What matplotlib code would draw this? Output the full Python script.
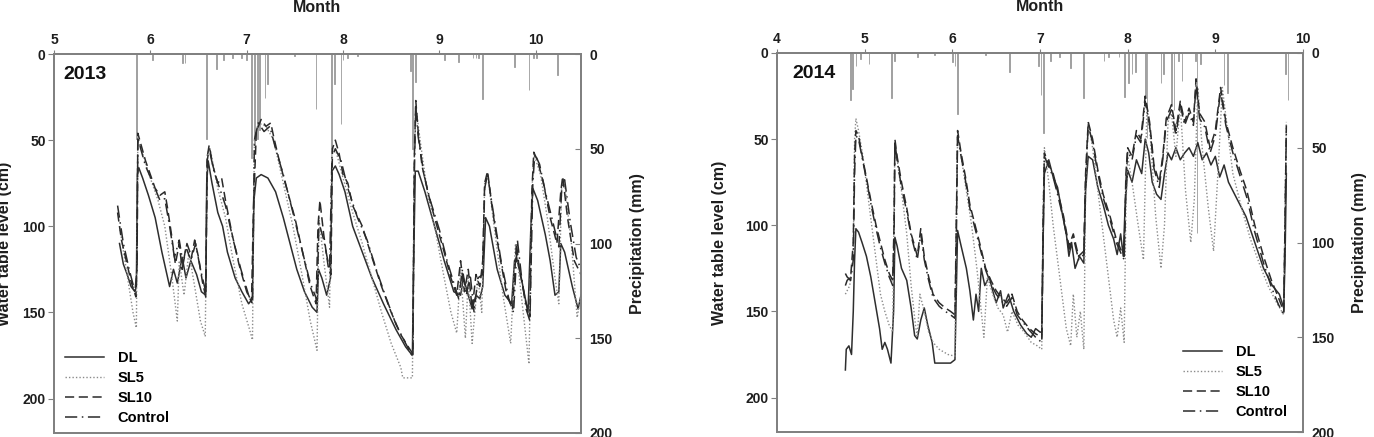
import matplotlib
matplotlib.use("Agg")
import matplotlib.pyplot as plt
import numpy as np

plt.rcParams['font.family'] = ['Liberation Sans', 'DejaVu Sans']
plt.rcParams['font.weight'] = 'bold'

# ---------------- 2013 data (month, water table cm) ----------------
dl13_m = [5.68, 5.72, 5.76, 5.8, 5.84, 5.855, 5.865, 5.88, 5.92, 5.98, 6.05, 6.12, 6.2, 6.24, 6.28, 6.33, 6.37, 6.42, 6.48, 6.53, 6.575, 6.585, 6.6, 6.64, 6.7, 6.75, 6.8, 6.88, 6.95, 7.02, 7.06, 7.075, 7.1, 7.15, 7.22, 7.3, 7.38, 7.45, 7.52, 7.6, 7.68, 7.73, 7.745, 7.78, 7.83, 7.87, 7.885, 7.92, 7.96, 8.02, 8.1, 8.2, 8.3, 8.42, 8.55, 8.65, 8.72, 8.73, 8.75, 8.78, 8.85, 8.95, 9.05, 9.15, 9.22, 9.25, 9.3, 9.34, 9.38, 9.42, 9.45, 9.48, 9.52, 9.6, 9.68, 9.75, 9.78, 9.8, 9.85, 9.92, 9.95, 9.97, 10.02, 10.1, 10.15, 10.2, 10.24, 10.26, 10.3, 10.38, 10.44, 10.47]
dl13_v = [110, 122, 128, 135, 138, 135, 70, 66, 72, 82, 95, 115, 135, 125, 133, 118, 130, 120, 128, 138, 140, 75, 62, 75, 92, 100, 115, 130, 138, 145, 142, 85, 72, 70, 72, 80, 95, 110, 125, 138, 147, 150, 125, 130, 140, 130, 68, 65, 70, 80, 100, 115, 130, 145, 160, 170, 175, 130, 68, 68, 80, 100, 120, 138, 140, 130, 140, 148, 140, 142, 135, 95, 100, 125, 140, 145, 120, 118, 130, 150, 100, 78, 85, 105, 120, 140, 138, 110, 115, 135, 148, 140]

sl5_13_m = [5.68, 5.75, 5.82, 5.855, 5.87, 5.92, 6.0, 6.08, 6.15, 6.22, 6.28, 6.3, 6.35, 6.4, 6.46, 6.52, 6.57, 6.59, 6.62, 6.7, 6.78, 6.86, 6.95, 7.03, 7.06, 7.08, 7.12, 7.2, 7.28, 7.38, 7.48, 7.58, 7.66, 7.73, 7.75, 7.8, 7.86, 7.885, 7.92, 8.0, 8.1, 8.2, 8.3, 8.4, 8.5, 8.6, 8.62, 8.72, 8.74, 8.755, 8.8, 8.88, 8.95, 9.05, 9.12, 9.18, 9.22, 9.27, 9.3, 9.34, 9.4, 9.44, 9.47, 9.5, 9.58, 9.66, 9.74, 9.79, 9.85, 9.93, 9.96, 9.98, 10.05, 10.12, 10.2, 10.24, 10.27, 10.3, 10.37, 10.43, 10.47]
sl5_13_v = [100, 125, 150, 159, 50, 58, 72, 85, 100, 128, 155, 120, 140, 115, 135, 155, 164, 58, 55, 78, 95, 120, 145, 160, 166, 50, 40, 42, 50, 75, 100, 130, 155, 172, 95, 120, 147, 55, 55, 72, 92, 110, 130, 150, 168, 182, 188, 188, 60, 30, 50, 82, 100, 130, 150, 162, 125, 165, 130, 168, 130, 150, 75, 70, 105, 140, 168, 110, 140, 180, 80, 58, 70, 95, 130, 145, 75, 75, 110, 153, 140]

sl10_13_m = [5.66, 5.7, 5.75, 5.8, 5.85, 5.862, 5.87, 5.9, 5.95, 6.0, 6.05, 6.1, 6.15, 6.18, 6.22, 6.26, 6.3, 6.33, 6.37, 6.42, 6.46, 6.5, 6.54, 6.575, 6.59, 6.61, 6.65, 6.7, 6.74, 6.78, 6.85, 6.92, 7.0, 7.05, 7.07, 7.1, 7.15, 7.2, 7.25, 7.28, 7.33, 7.4, 7.5, 7.58, 7.66, 7.72, 7.74, 7.76, 7.8, 7.85, 7.875, 7.89, 7.92, 7.96, 8.0, 8.05, 8.1, 8.2, 8.3, 8.4, 8.5, 8.6, 8.7, 8.725, 8.74, 8.755, 8.78, 8.82, 8.88, 8.95, 9.05, 9.12, 9.18, 9.22, 9.26, 9.3, 9.34, 9.38, 9.42, 9.45, 9.47, 9.5, 9.55, 9.62, 9.7, 9.76, 9.8, 9.83, 9.9, 9.94, 9.96, 9.98, 10.02, 10.08, 10.15, 10.22, 10.26, 10.28, 10.33, 10.4, 10.47]
sl10_13_v = [92, 108, 120, 132, 141, 120, 46, 52, 62, 70, 78, 82, 80, 90, 105, 122, 110, 125, 112, 120, 108, 118, 132, 141, 60, 53, 65, 75, 72, 85, 105, 122, 138, 144, 90, 45, 38, 42, 40, 48, 60, 75, 95, 115, 135, 145, 100, 85, 105, 125, 128, 55, 50, 58, 70, 75, 88, 100, 118, 135, 150, 163, 172, 174, 60, 27, 45, 65, 80, 95, 115, 130, 140, 120, 138, 125, 148, 128, 135, 120, 75, 68, 90, 115, 140, 148, 110, 125, 145, 152, 80, 57, 62, 75, 95, 110, 80, 71, 95, 120, 128]

ctl13_m = [5.66, 5.72, 5.78, 5.84, 5.862, 5.87, 5.9, 5.95, 6.02, 6.1, 6.15, 6.2, 6.25, 6.3, 6.34, 6.38, 6.43, 6.47, 6.52, 6.575, 6.59, 6.61, 6.66, 6.72, 6.78, 6.86, 6.94, 7.02, 7.06, 7.08, 7.12, 7.18, 7.24, 7.3, 7.38, 7.48, 7.58, 7.66, 7.73, 7.75, 7.8, 7.86, 7.885, 7.92, 7.98, 8.05, 8.15, 8.25, 8.35, 8.45, 8.55, 8.65, 8.725, 8.74, 8.755, 8.78, 8.84, 8.9, 9.0, 9.08, 9.15, 9.2, 9.24, 9.28, 9.32, 9.36, 9.4, 9.45, 9.47, 9.5, 9.56, 9.64, 9.72, 9.77, 9.81, 9.85, 9.9, 9.94, 9.97, 9.99, 10.04, 10.1, 10.18, 10.24, 10.27, 10.3, 10.36, 10.42, 10.47]
ctl13_v = [88, 110, 125, 138, 125, 48, 55, 65, 74, 85, 84, 100, 118, 108, 122, 110, 118, 110, 125, 138, 62, 55, 68, 78, 88, 108, 125, 140, 145, 50, 40, 45, 42, 55, 70, 92, 115, 133, 143, 98, 108, 125, 60, 55, 62, 78, 95, 108, 126, 142, 157, 168, 176, 70, 30, 48, 70, 84, 102, 120, 133, 142, 125, 140, 128, 150, 130, 128, 78, 70, 92, 120, 142, 150, 108, 128, 148, 155, 75, 58, 64, 80, 98, 112, 78, 73, 98, 118, 125]

rain13_m = [5.86, 6.02, 6.33, 6.36, 6.58, 6.69, 6.76, 6.85, 6.95, 7.0, 7.05, 7.08, 7.11, 7.13, 7.19, 7.22, 7.5, 7.72, 7.88, 7.91, 7.98, 8.0, 8.05, 8.15, 8.7, 8.72, 8.75, 9.05, 9.2, 9.35, 9.38, 9.41, 9.45, 9.78, 9.93, 9.98, 10.01, 10.23]
rain13_v = [45, 3, 5, 5, 45, 8, 3, 2, 2, 3, 55, 48, 45, 40, 23, 16, 1, 29, 52, 16, 37, 3, 2, 1, 9, 50, 15, 3, 4, 2, 2, 2, 24, 7, 19, 2, 2, 11]

# ---------------- 2014 data ----------------
dl14_m = [4.78, 4.79, 4.82, 4.85, 4.87, 4.885, 4.9, 4.93, 4.97, 5.02, 5.07, 5.12, 5.17, 5.2, 5.23, 5.26, 5.3, 5.33, 5.345, 5.37, 5.42, 5.48, 5.53, 5.57, 5.6, 5.64, 5.68, 5.72, 5.77, 5.8, 5.9, 5.98, 6.03, 6.045, 6.06, 6.1, 6.16, 6.2, 6.24, 6.27, 6.3, 6.33, 6.37, 6.42, 6.46, 6.5, 6.55, 6.58, 6.64, 6.7, 6.78, 6.85, 6.9, 6.95, 7.0, 7.02, 7.035, 7.05, 7.1, 7.15, 7.2, 7.26, 7.3, 7.33, 7.36, 7.4, 7.45, 7.5, 7.52, 7.55, 7.6, 7.66, 7.72, 7.78, 7.84, 7.88, 7.92, 7.95, 7.97, 8.0, 8.05, 8.1, 8.16, 8.2, 8.24, 8.28, 8.33, 8.38, 8.42, 8.46, 8.5, 8.55, 8.6, 8.65, 8.7, 8.75, 8.8, 8.85, 8.9, 8.95, 9.0, 9.05, 9.1, 9.15, 9.25, 9.35, 9.45, 9.55, 9.65, 9.73, 9.78, 9.795, 9.81]
dl14_v = [184, 172, 170, 175, 150, 120, 102, 104, 110, 118, 130, 145, 160, 172, 168, 172, 180, 150, 107, 112, 125, 132, 148, 164, 166, 155, 148, 158, 168, 180, 180, 180, 178, 140, 103, 112, 125, 138, 155, 140, 150, 125, 135, 130, 138, 145, 138, 148, 140, 150, 158, 163, 165, 160, 162, 162, 110, 70, 62, 72, 78, 95, 105, 118, 110, 125, 118, 122, 80, 60, 62, 78, 88, 100, 108, 117, 105, 118, 90, 68, 75, 62, 70, 50, 58, 75, 82, 85, 70, 58, 62, 55, 62, 58, 55, 60, 52, 62, 58, 65, 60, 72, 65, 75, 85, 95, 110, 125, 135, 140, 148, 120, 70]

sl5_14_m = [4.78, 4.83, 4.87, 4.885, 4.9, 4.93, 4.98, 5.03, 5.08, 5.13, 5.18, 5.23, 5.28, 5.32, 5.335, 5.345, 5.37, 5.42, 5.48, 5.53, 5.58, 5.6, 5.63, 5.68, 5.73, 5.78, 5.85, 5.95, 6.03, 6.045, 6.06, 6.1, 6.16, 6.22, 6.28, 6.33, 6.36, 6.4, 6.46, 6.52, 6.58, 6.63, 6.68, 6.75, 6.82, 6.9, 6.97, 7.02, 7.035, 7.05, 7.1, 7.15, 7.2, 7.25, 7.3, 7.35, 7.38, 7.42, 7.46, 7.5, 7.52, 7.55, 7.6, 7.66, 7.72, 7.78, 7.84, 7.88, 7.92, 7.96, 7.98, 8.0, 8.05, 8.12, 8.18, 8.22, 8.26, 8.32, 8.38, 8.42, 8.46, 8.5, 8.55, 8.6, 8.66, 8.72, 8.76, 8.8, 8.85, 8.92, 8.98, 9.04, 9.08, 9.14, 9.2, 9.3, 9.4, 9.5, 9.6, 9.7, 9.78, 9.795, 9.81]
sl5_14_v = [140, 135, 115, 50, 38, 45, 60, 80, 100, 120, 140, 150, 158, 162, 90, 52, 62, 80, 105, 135, 158, 165, 140, 150, 162, 168, 172, 175, 176, 100, 48, 60, 80, 100, 125, 150, 165, 130, 140, 148, 152, 162, 150, 158, 162, 168, 170, 172, 95, 55, 75, 100, 120, 140, 160, 170, 140, 165, 150, 172, 80, 40, 55, 80, 105, 130, 155, 165, 148, 168, 90, 60, 75, 100, 120, 30, 50, 95, 125, 100, 40, 35, 60, 30, 80, 110, 85, 20, 55, 90, 115, 60, 20, 45, 70, 90, 108, 122, 135, 145, 152, 90, 40]

sl10_14_m = [4.78, 4.8, 4.84, 4.87, 4.885, 4.9, 4.93, 4.98, 5.03, 5.08, 5.13, 5.18, 5.23, 5.28, 5.32, 5.335, 5.345, 5.37, 5.42, 5.48, 5.53, 5.57, 5.6, 5.64, 5.68, 5.73, 5.78, 5.85, 5.92, 5.98, 6.03, 6.045, 6.06, 6.1, 6.15, 6.2, 6.26, 6.32, 6.38, 6.44, 6.5, 6.56, 6.62, 6.68, 6.74, 6.8, 6.88, 6.95, 7.02, 7.035, 7.05, 7.1, 7.15, 7.2, 7.27, 7.33, 7.38, 7.44, 7.5, 7.52, 7.55, 7.6, 7.66, 7.72, 7.8, 7.87, 7.93, 7.96, 7.98, 8.0, 8.05, 8.1, 8.15, 8.2, 8.25, 8.3, 8.36, 8.4, 8.44, 8.5, 8.55, 8.6, 8.65, 8.7, 8.75, 8.78, 8.82, 8.88, 8.94, 9.0, 9.06, 9.12, 9.2, 9.28, 9.36, 9.45, 9.55, 9.64, 9.72, 9.78, 9.795, 9.81]
sl10_14_v = [135, 132, 130, 110, 60, 45, 48, 62, 75, 88, 100, 110, 120, 128, 132, 100, 50, 60, 75, 90, 105, 112, 118, 102, 118, 130, 140, 145, 148, 150, 152, 100, 45, 58, 72, 88, 100, 112, 125, 132, 138, 142, 145, 140, 150, 155, 160, 163, 165, 100, 58, 65, 70, 80, 95, 112, 105, 118, 115, 70, 40, 50, 68, 82, 95, 108, 115, 118, 70, 55, 60, 45, 50, 25, 40, 65, 75, 60, 38, 30, 45, 28, 40, 32, 40, 15, 35, 40, 55, 45, 20, 40, 55, 68, 80, 100, 118, 132, 142, 150, 100, 42]

ctl14_m = [4.78, 4.8, 4.84, 4.87, 4.885, 4.9, 4.93, 4.98, 5.03, 5.08, 5.13, 5.18, 5.23, 5.28, 5.32, 5.335, 5.345, 5.37, 5.42, 5.48, 5.53, 5.57, 5.6, 5.64, 5.68, 5.73, 5.78, 5.85, 5.92, 5.98, 6.03, 6.045, 6.06, 6.1, 6.15, 6.2, 6.26, 6.32, 6.38, 6.44, 6.5, 6.56, 6.62, 6.68, 6.74, 6.8, 6.88, 6.95, 7.02, 7.035, 7.05, 7.1, 7.15, 7.2, 7.27, 7.33, 7.38, 7.44, 7.5, 7.52, 7.55, 7.6, 7.66, 7.72, 7.8, 7.87, 7.93, 7.96, 7.98, 8.0, 8.05, 8.1, 8.15, 8.2, 8.25, 8.3, 8.36, 8.4, 8.44, 8.5, 8.55, 8.6, 8.65, 8.7, 8.75, 8.78, 8.82, 8.88, 8.94, 9.0, 9.06, 9.12, 9.2, 9.28, 9.36, 9.45, 9.55, 9.64, 9.72, 9.78, 9.795, 9.81]
ctl14_v = [128, 130, 132, 120, 70, 48, 50, 63, 76, 90, 102, 113, 122, 130, 135, 110, 52, 62, 78, 92, 106, 114, 120, 105, 120, 132, 142, 147, 150, 152, 154, 110, 48, 60, 74, 90, 102, 114, 126, 134, 140, 144, 147, 142, 152, 156, 161, 165, 168, 110, 60, 66, 72, 82, 97, 114, 107, 120, 117, 75, 42, 52, 70, 84, 97, 110, 117, 120, 75, 57, 62, 48, 52, 28, 42, 67, 78, 62, 40, 33, 48, 30, 42, 35, 42, 18, 38, 43, 58, 48, 22, 42, 58, 71, 84, 104, 122, 136, 146, 152, 100, 45]

rain14_m = [4.84, 4.86, 4.9, 4.95, 5.05, 5.31, 5.34, 5.6, 5.8, 6.0, 6.03, 6.06, 6.38, 6.65, 6.98, 7.01, 7.04, 7.12, 7.22, 7.35, 7.5, 7.73, 7.78, 7.9, 7.96, 8.01, 8.05, 8.09, 8.2, 8.22, 8.38, 8.41, 8.5, 8.53, 8.58, 8.62, 8.77, 8.79, 8.83, 9.1, 9.14, 9.8, 9.83]
rain14_v = [25, 19, 7, 3, 6, 24, 4, 2, 1, 5, 7, 32, 1, 10, 7, 22, 42, 4, 2, 8, 24, 4, 2, 2, 23, 16, 11, 10, 24, 45, 16, 11, 28, 30, 4, 15, 4, 95, 6, 17, 21, 11, 25]

yticks_left = [0, 50, 100, 150, 200]
yticks_right = [0, 50, 100, 150, 200]

fig = plt.figure(figsize=(13.74, 4.37), dpi=100)

SPINE = '#808080'
TXT = '#1e1e1e'


def panel(rect, year, xmin, xmax, months, series, rain_m, rain_v, leg_anchor, ylabel_x, year_x):
    ax = fig.add_axes(rect)
    ax2 = ax.twinx()
    ax2.bar(rain_m, rain_v, width=0.008, color='#9a9a9a', edgecolor='#9a9a9a', linewidth=0.6)
    ax2.set_ylim(200, 0)
    ax2.set_yticks(yticks_right)
    ax2.tick_params(axis='y', direction='in', length=4, pad=6, labelsize=10, colors=SPINE, labelcolor=TXT)

    styles = [
        dict(color='#2e2e2e', lw=1.1, ls='-'),
        dict(color='#8a8a8a', lw=1.0, ls=(0, (1, 1.5))),
        dict(color='#2a2a2a', lw=1.1, ls=(0, (6, 3))),
        dict(color='#2a2a2a', lw=1.1, ls=(0, (8, 3, 1, 3))),
    ]
    labels = ['DL', 'SL5', 'SL10', 'Control']
    handles = []
    for (m, v), st, lab in zip(series, styles, labels):
        h, = ax.plot(m, v, label=lab, **st)
        handles.append(h)
    ax.set_zorder(ax2.get_zorder() + 1)
    ax.patch.set_visible(False)

    ax.set_xlim(xmin, xmax)
    ax.set_ylim(220, 0)
    ax.set_yticks(yticks_left)
    ax.set_xticks(months)
    ax.xaxis.tick_top()
    ax.tick_params(axis='x', direction='out', length=3, pad=2, labelsize=10, colors=SPINE, labelcolor=TXT)
    ax.tick_params(axis='y', direction='out', length=4, pad=2, labelsize=10, colors=SPINE, labelcolor=TXT)
    for a in (ax, ax2):
        for s in a.spines.values():
            s.set_color(SPINE)
            s.set_linewidth(1.3)

    ax.text(0.5, 1.124, 'Month', transform=ax.transAxes, ha='center', va='center', fontsize=11.5, color=TXT)
    ax.text(ylabel_x, 0.5, 'Water table level (cm)', transform=ax.transAxes, ha='center', va='center',
            rotation=90, fontsize=11.5, color=TXT)
    ax.text(1.107, 0.5, 'Precipitation (mm)', transform=ax.transAxes, ha='center', va='center',
            rotation=90, fontsize=11.5, color=TXT)
    ax.text(year_x, 0.945, str(year), transform=ax.transAxes, ha='left', va='center', fontsize=14, color='#111111')

    ax.legend(handles=handles, loc='lower left', bbox_to_anchor=leg_anchor, frameon=False, fontsize=10.5,
              handlelength=2.7, handletextpad=0.9, labelspacing=0.4, borderaxespad=0, borderpad=0)
    return ax


panel([54 / 1374, 1 - 433 / 437, 527 / 1374, 379 / 437], 2013, 5, 10.47, [5, 6, 7, 8, 9, 10],
      [(dl13_m, dl13_v), (sl5_13_m, sl5_13_v), (sl10_13_m, sl10_13_v), (ctl13_m, ctl13_v)],
      rain13_m, rain13_v, (0.021, 0.022), -0.093, 0.017)

panel([777 / 1374, 1 - 432 / 437, 526 / 1374, 379 / 437], 2014, 4, 10, [4, 5, 6, 7, 8, 9, 10],
      [(dl14_m, dl14_v), (sl5_14_m, sl5_14_v), (sl10_14_m, sl10_14_v), (ctl14_m, ctl14_v)],
      rain14_m, rain14_v, (0.772, 0.035), -0.110, 0.0285)

fig.savefig('out.png', dpi=100)
